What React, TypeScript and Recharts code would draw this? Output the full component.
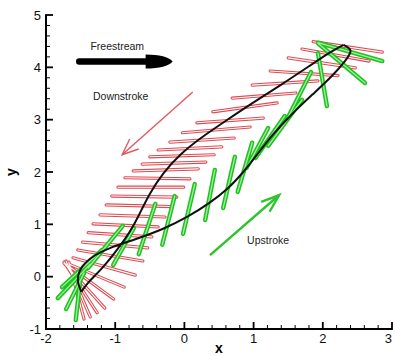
import { ComposedChart, Line, Scatter, XAxis, YAxis } from "recharts";

type Pt = [number, number];

const FONT = "'Liberation Sans', Arial, sans-serif";

const xMajor = [-2, -1, 0, 1, 2, 3];
const yMajor = [-1, 0, 1, 2, 3, 4, 5];

// downstroke wing sections (red): leading edge and trailing edge
const downLead: Pt[] = [
  [1.86, 4.49], [1.7, 4.35], [1.5, 4.18], [1.24, 3.93], [0.98, 3.66], [0.69, 3.41],
  [0.41, 3.15], [0.18, 2.94], [-0.03, 2.75], [-0.21, 2.57], [-0.38, 2.42], [-0.5, 2.29],
  [-0.61, 2.15], [-0.74, 2.02], [-0.86, 1.89], [-0.96, 1.71], [-1.05, 1.54], [-1.13, 1.37],
  [-1.22, 1.18], [-1.32, 1.01], [-1.39, 0.84], [-1.47, 0.66], [-1.54, 0.51], [-1.61, 0.36],
  [-1.67, 0.24], [-1.71, 0.24], [-1.74, 0.26], [-1.74, 0.28], [-1.71, 0.3], [-1.67, 0.28],
];
const downTrail: Pt[] = [
  [2.86, 4.29], [2.67, 4.12], [2.47, 3.99], [2.22, 3.84], [1.93, 3.74], [1.61, 3.51],
  [1.34, 3.32], [1.14, 3.03], [0.95, 2.86], [0.72, 2.65], [0.54, 2.48], [0.43, 2.33],
  [0.31, 2.19], [0.2, 2.06], [0.08, 1.87], [-0.01, 1.71], [-0.11, 1.52], [-0.18, 1.34],
  [-0.28, 1.14], [-0.38, 0.95], [-0.47, 0.76], [-0.53, 0.55], [-0.6, 0.3], [-0.71, 0.03],
  [-0.87, -0.2], [-1.02, -0.43], [-1.15, -0.6], [-1.26, -0.69], [-1.36, -0.77], [-1.45, -0.81],
];

// upstroke wing sections (green): lower end and upper end
const upLow: Pt[] = [
  [-1.57, -0.83], [-1.71, -0.62], [-1.83, -0.41], [-1.77, -0.2], [-1.39, 0.17], [-1.03, 0.22],
  [-0.66, 0.43], [-0.32, 0.61], [-0.02, 0.82], [0.3, 1.08], [0.56, 1.31], [0.77, 1.62],
  [0.9, 2.08], [1.03, 2.27], [1.21, 2.5], [1.5, 3.05], [2.06, 3.26], [2.61, 3.7], [2.86, 4.12],
];
const upHigh: Pt[] = [
  [-1.51, -0.12], [-1.45, 0.07], [-1.36, 0.24], [-1.19, 0.51], [-0.89, 0.97], [-0.73, 0.93],
  [-0.42, 1.39], [-0.14, 1.54], [0.15, 1.77], [0.44, 2.04], [0.73, 2.29], [0.98, 2.56],
  [1.21, 2.84], [1.45, 3.07], [1.7, 3.38], [1.83, 3.91], [1.93, 4.27], [1.93, 4.46], [1.93, 4.47],
];

// wing tip path
const pathDown: Pt[] = [
  [2.3, 4.43], [2.1, 4.28], [1.8, 4.02], [1.4, 3.67], [1.0, 3.33], [0.6, 2.98],
  [0.25, 2.66], [-0.05, 2.34], [-0.3, 1.98], [-0.5, 1.58], [-0.66, 1.17], [-0.8, 0.84],
  [-1.0, 0.47], [-1.2, 0.15], [-1.38, -0.1], [-1.49, -0.29],
];
const pathUp: Pt[] = [
  [-1.49, -0.29], [-1.54, -0.05], [-1.47, 0.2], [-1.3, 0.4], [-1.05, 0.56], [-0.7, 0.72],
  [-0.3, 0.92], [0.05, 1.15], [0.35, 1.4], [0.62, 1.68], [0.85, 2.0], [1.05, 2.33],
  [1.27, 2.7], [1.55, 3.1], [1.85, 3.48], [2.12, 3.82], [2.32, 4.12], [2.4, 4.32], [2.3, 4.43],
];

// annotation arrows
const freeShaft: Pt[] = [[-1.52, 4.11], [-0.45, 4.11]];
const freeTip: Pt[] = [[-0.17, 4.11]];
const downShaft: Pt[] = [[0.12, 3.53], [-0.9, 2.33]];
const downHead: Pt[] = [[-0.79, 2.63], [-0.9, 2.33], [-0.66, 2.44]];
const upShaft: Pt[] = [[0.37, 0.41], [1.37, 1.56]];
const upHead: Pt[] = [[1.11, 1.43], [1.37, 1.56], [1.23, 1.24]];

const notes = [
  { x: -0.97, y: 4.33, text: "Freestream" },
  { x: -0.92, y: 3.38, text: "Downstroke" },
  { x: 1.21, y: 0.62, text: "Upstroke" },
];

const pts = (a: Pt[]) => a.map(([x, y]) => ({ x, y }));

const segs = (a: Pt[], b: Pt[]) =>
  a.flatMap((p, i) => [
    { x: p[0], y: p[1] as number | null },
    { x: b[i][0], y: b[i][1] as number | null },
    { x: b[i][0], y: null },
  ]);

const withMinor = (major: number[]) =>
  major
    .slice(0, -1)
    .flatMap((m) => [0, 1, 2, 3, 4].map((k) => Math.round((m + k * 0.2) * 10) / 10))
    .concat(major[major.length - 1]);

const redSegs = segs(downLead, downTrail);
const greenSegs = segs(upLow, upHigh);

function XTick({ x, y, payload }: any) {
  const v = payload.value;
  const major = Number.isInteger(v);
  const last = v === xMajor[xMajor.length - 1];
  return (
    <g>
      <line x1={x} x2={x} y1={y + (major ? 1 : 0)} y2={y - (major ? 7 : 4)} stroke="#000" strokeWidth={major ? 1.8 : 1} />
      {major && (
        <text x={last ? x : x} y={y + 14} textAnchor={last ? "end" : "middle"} fontSize={13} fill="#111" fontFamily={FONT}>
          {v}
        </text>
      )}
    </g>
  );
}

function YTick({ x, y, payload }: any) {
  const v = payload.value;
  const major = Number.isInteger(v);
  return (
    <g>
      <line x1={x - (major ? 1 : 0)} x2={x + (major ? 7 : 4)} y1={y} y2={y} stroke="#000" strokeWidth={major ? 1.8 : 1} />
      {major && (
        <text x={x - 5} y={y + 4.5} textAnchor="end" fontSize={13} fill="#111" fontFamily={FONT}>
          {v}
        </text>
      )}
    </g>
  );
}

const line = { dot: false, activeDot: false, isAnimationActive: false, dataKey: "y" } as const;

export default function App() {
  return (
    <div style={{ position: "absolute", left: 0, top: 0, width: 393, height: 356, background: "#fff" }}>
      <ComposedChart width={393} height={356} margin={{ top: 15, right: 1, bottom: 0, left: 0 }}>
        <XAxis
          type="number"
          dataKey="x"
          domain={[-2, 3]}
          allowDataOverflow
          ticks={withMinor(xMajor)}
          interval={0}
          tick={<XTick />}
          tickLine={false}
          tickSize={0}
          tickMargin={0}
          height={27}
          axisLine={{ stroke: "#000", strokeWidth: 2 }}
          label={{
            content: ({ viewBox }: any) => (
              <text x={viewBox.x + viewBox.width / 2} y={viewBox.y + 24} textAnchor="middle" fontSize={14} fontWeight="bold" fontFamily={FONT}>
                x
              </text>
            ),
          }}
        />
        <YAxis
          type="number"
          dataKey="y"
          domain={[-1, 5]}
          allowDataOverflow
          ticks={withMinor(yMajor)}
          interval={0}
          tick={<YTick />}
          tickLine={false}
          tickSize={0}
          tickMargin={0}
          width={46}
          axisLine={{ stroke: "#000", strokeWidth: 2 }}
          label={{
            content: ({ viewBox }: any) => (
              <text
                transform={`translate(${viewBox.x + 16}, ${viewBox.y + viewBox.height / 2}) rotate(-90)`}
                textAnchor="middle"
                fontSize={14}
                fontWeight="bold"
                fontFamily={FONT}
              >
                y
              </text>
            ),
          }}
        />

        <Line {...line} data={redSegs} type="linear" stroke="#e04a52" strokeWidth={3.2} strokeLinecap="round" connectNulls={false} />
        <Line {...line} data={redSegs} type="linear" stroke="#ffffff" strokeWidth={1.1} strokeLinecap="round" connectNulls={false} />

        <Line {...line} data={greenSegs} type="linear" stroke="#1cc41c" strokeWidth={4.4} strokeLinecap="round" connectNulls={false} />
        <Line {...line} data={greenSegs} type="linear" stroke="#a6eca6" strokeWidth={1.3} strokeLinecap="round" connectNulls={false} />

        <Line {...line} data={pts(pathDown)} type="natural" stroke="#111" strokeWidth={2} />
        <Line {...line} data={pts(pathUp)} type="natural" stroke="#111" strokeWidth={2} />

        <Line {...line} data={pts(downShaft)} type="linear" stroke="#e05a60" strokeWidth={1.4} />
        <Line {...line} data={pts(downHead)} type="linear" stroke="#e05a60" strokeWidth={1.4} />
        <Line {...line} data={pts(upShaft)} type="linear" stroke="#2ec42e" strokeWidth={2.4} />
        <Line {...line} data={pts(upHead)} type="linear" stroke="#2ec42e" strokeWidth={2.4} />

        <Line {...line} data={pts(freeShaft)} type="linear" stroke="#000" strokeWidth={6.5} strokeLinecap="round" />
        <Scatter
          data={pts(freeTip)}
          isAnimationActive={false}
          shape={(p: any) => (
            <path
              d={`M${p.cx - 27},${p.cy - 7} Q${p.cx - 6},${p.cy - 7} ${p.cx},${p.cy} Q${p.cx - 6},${p.cy + 7} ${p.cx - 27},${p.cy + 7} Z`}
              fill="#000"
            />
          )}
        />
        <Scatter
          data={notes}
          isAnimationActive={false}
          shape={(p: any) => (
            <text x={p.cx} y={p.cy} textAnchor="middle" fontSize={10.5} fill="#222" fontFamily={FONT}>
              {p.payload.text}
            </text>
          )}
        />
      </ComposedChart>
    </div>
  );
}
